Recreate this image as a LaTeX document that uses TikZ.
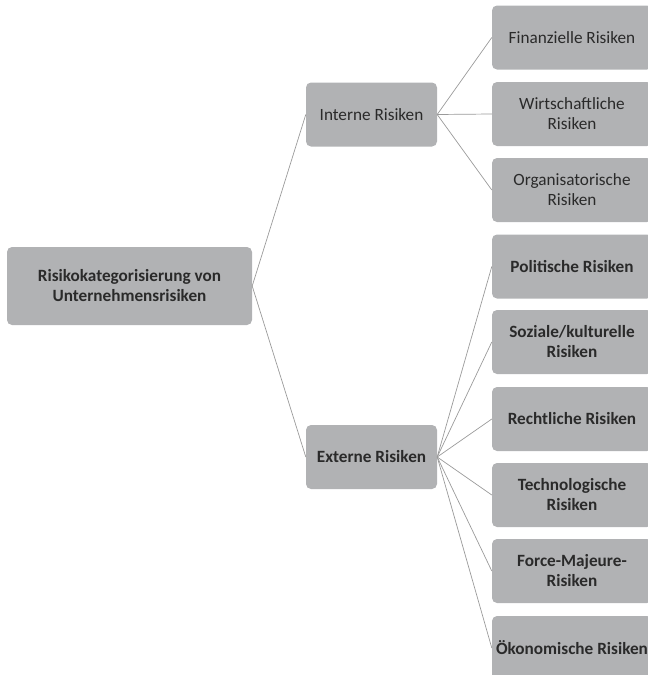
\documentclass[tikz,border=0pt]{standalone}
\usepackage{fontspec}
\setmainfont{Carlito}
\definecolor{boxgray}{HTML}{B1B2B4}
\definecolor{txtdark}{HTML}{2A2A2A}
\definecolor{linegray}{HTML}{9A9A9A}
\begin{document}
\begin{tikzpicture}[x=1pt,y=-1pt,
  box/.style={fill=boxgray, rounded corners=5pt, inner sep=1pt, align=center,
    text=txtdark, font=\fontsize{17.2}{20}\selectfont},
  leaf/.style={box, minimum width=160pt, minimum height=64pt},
  mid/.style={box, minimum width=131pt, minimum height=64pt},
  bold/.style={font=\fontsize{17.2}{20}\selectfont\bfseries},
  conn/.style={draw=linegray, line width=0.7pt}]
\useasboundingbox (0,0) rectangle (648,675);
\clip (0,0) rectangle (648,675);
\node[box, bold, minimum width=245pt, minimum height=78pt] (root) at (129.5,286) {Risikokategorisierung von\\Unternehmensrisiken};
\node[mid] (int) at (371.5,114.5) {Interne Risiken};
\node[mid, bold] (ext) at (371.5,457) {Externe Risiken};
\node[leaf] (l1) at (572,37.5) {Finanzielle Risiken};
\node[leaf] (l2) at (572,114) {Wirtschaftliche\\Risiken};
\node[leaf] (l3) at (572,190) {Organisatorische\\Risiken};
\node[leaf, bold] (e1) at (572,266.5) {Politische Risiken};
\node[leaf, bold] (e2) at (572,342) {Soziale/kulturelle\\Risiken};
\node[leaf, bold] (e3) at (572,419) {Rechtliche Risiken};
\node[leaf, bold] (e4) at (572,495) {Technologische\\Risiken};
\node[leaf, bold] (e5) at (572,571) {Force-Majeure-\\Risiken};
\node[leaf, bold] (e6) at (572,648) {Ökonomische Risiken};
\draw[conn] (root.east) -- (int.west);
\draw[conn] (root.east) -- (ext.west);
\foreach \n in {l1,l2,l3} \draw[conn] (int.east) -- (\n.west);
\foreach \n in {e1,e2,e3,e4,e5,e6} \draw[conn] (ext.east) -- (\n.west);
\end{tikzpicture}
\end{document}
